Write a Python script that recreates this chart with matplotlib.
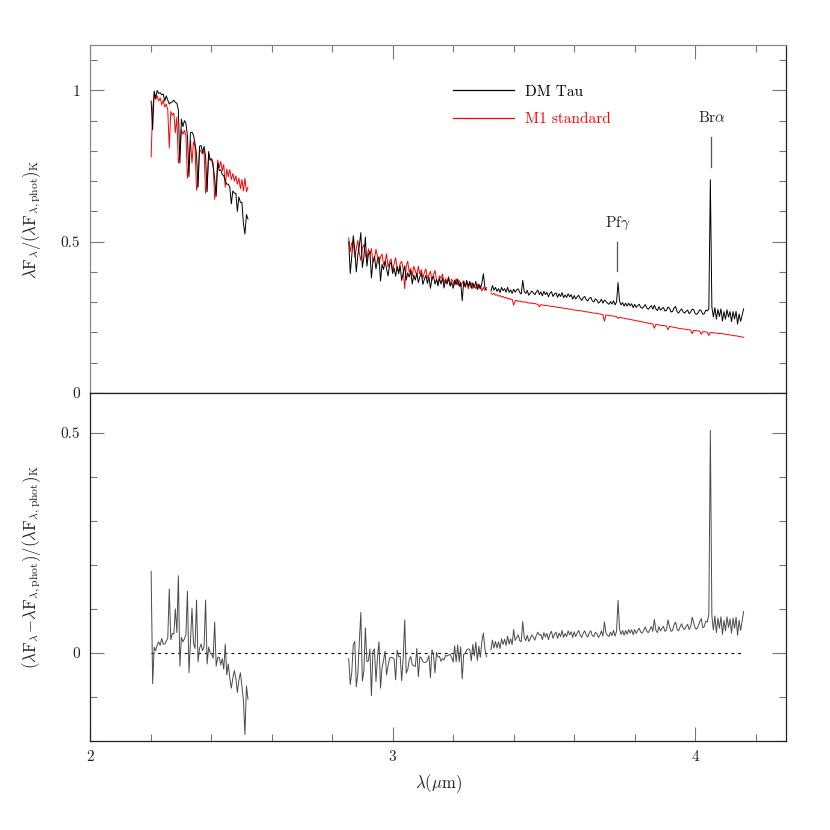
import numpy as np
import matplotlib
matplotlib.use('Agg')
import matplotlib.pyplot as plt
from matplotlib.lines import Line2D
from matplotlib.ticker import MultipleLocator, FuncFormatter

plt.rcParams['font.family'] = ['serif']
plt.rcParams['font.serif'] = ['cmr10', 'DejaVu Serif']
plt.rcParams['mathtext.fontset'] = 'cm'
plt.rcParams['axes.formatter.use_mathtext'] = True

# ---- wavelength grids of the three observed segments: (start um, step um, n points)
seg_a = (2.202, 0.005, 65)
seg_b = (2.855, 0.005, 92)
seg_c = (3.325, 0.005, 168)

# ---- normalised flux  lambda F_lambda / (lambda F_lambda,phot)_K , in units of 1/1000
dm_tau_a = [965, 870, 998, 975, 1000, 990, 992, 985, 988, 965, 982, 968, 955, 960, 962, 968,
            960, 958, 935, 760, 905, 880, 900, 892, 850, 715, 860, 862, 852, 825, 790, 680,
            815, 818, 795, 815, 780, 665, 798, 770, 772, 748, 710, 650, 760, 735, 738, 722,
            718, 700, 690, 690, 680, 625, 668, 660, 660, 600, 648, 630, 630, 560, 525, 590, 575]
m1_std_a = [780, 940, 985, 970, 982, 965, 975, 952, 968, 945, 955, 935, 810, 930, 918, 925,
            860, 912, 760, 790, 870, 855, 868, 850, 710, 760, 835, 760, 830, 815, 670, 700,
            805, 798, 790, 800, 660, 690, 785, 770, 775, 760, 640, 680, 770, 745, 765, 735,
            755, 680, 740, 715, 738, 705, 725, 700, 718, 690, 710, 675, 705, 668, 710, 665, 680]

dm_tau_b = [500, 395, 452, 520, 474, 400, 456, 487, 530, 415, 449, 515, 419, 458, 467, 380,
            435, 451, 410, 441, 450, 370, 425, 408, 436, 410, 387, 423, 433, 395, 413, 386,
            418, 394, 420, 372, 398, 420, 373, 397, 383, 404, 360, 390, 373, 396, 365, 384,
            396, 359, 376, 389, 362, 383, 346, 379, 386, 360, 375, 354, 379, 360, 380, 347,
            372, 360, 380, 353, 366, 346, 373, 358, 376, 352, 365, 305, 368, 350, 372, 353,
            369, 346, 364, 349, 369, 342, 360, 345, 363, 394, 348, 341]
m1_std_b = [513, 467, 496, 502, 448, 477, 504, 462, 438, 479, 491, 458, 439, 476, 458, 477,
            432, 442, 475, 451, 425, 450, 459, 425, 432, 460, 416, 435, 443, 406, 427, 447,
            412, 402, 428, 435, 409, 345, 419, 435, 399, 412, 387, 419, 404, 386, 419, 393,
            407, 379, 398, 410, 379, 389, 402, 372, 391, 405, 374, 364, 387, 379, 393, 363,
            378, 367, 385, 356, 376, 367, 357, 378, 358, 372, 351, 364, 371, 351, 365, 344,
            361, 364, 345, 356, 345, 359, 345, 355, 337, 349, 339, 349]

dm_tau_c = [337, 355, 340, 349, 336, 345, 332, 349, 338, 345, 333, 349, 333, 341, 329, 343,
            333, 341, 344, 332, 327, 372, 335, 329, 339, 323, 330, 337, 331, 325, 334, 340,
            325, 334, 321, 336, 325, 333, 318, 330, 335, 319, 327, 331, 316, 328, 319, 332,
            315, 324, 316, 328, 318, 325, 310, 322, 311, 318, 323, 312, 306, 315, 319, 308,
            304, 313, 316, 304, 301, 311, 307, 297, 301, 310, 297, 307, 303, 297, 293, 302,
            294, 305, 291, 301, 365, 303, 291, 299, 287, 297, 287, 297, 288, 295, 282, 293,
            283, 289, 293, 283, 280, 286, 292, 281, 277, 283, 289, 277, 290, 278, 272, 285,
            274, 279, 283, 271, 273, 284, 280, 268, 269, 281, 286, 269, 264, 272, 278, 268,
            264, 270, 274, 262, 268, 277, 275, 262, 260, 266, 275, 272, 260, 262, 274, 271,
            278, 705, 285, 251, 282, 244, 276, 253, 278, 238, 269, 244, 275, 251, 269, 236,
            269, 245, 270, 228, 261, 237, 257, 278]
m1_std_c = [330, 326, 329, 323, 325, 320, 322, 317, 319, 314, 316, 311, 313, 309, 310, 290,
            305, 306, 303, 304, 302, 301, 300, 301, 299, 297, 298, 296, 295, 296, 294, 293,
            285, 292, 291, 290, 289, 289, 288, 287, 286, 286, 285, 284, 283, 283, 282, 281,
            280, 280, 279, 278, 277, 277, 275, 274, 274, 273, 272, 272, 271, 270, 269, 268,
            268, 267, 266, 265, 264, 264, 263, 262, 261, 260, 259, 237, 258, 257, 256, 255,
            255, 254, 253, 252, 246, 250, 249, 248, 247, 246, 245, 244, 243, 242, 241, 240,
            239, 238, 237, 236, 235, 234, 233, 232, 231, 230, 229, 228, 214, 227, 226, 225,
            224, 223, 223, 222, 221, 209, 220, 219, 218, 217, 216, 215, 214, 213, 212, 212,
            211, 210, 209, 209, 208, 196, 207, 206, 206, 205, 204, 194, 203, 202, 202, 201,
            190, 200, 200, 199, 198, 198, 197, 197, 196, 196, 195, 194, 193, 193, 192, 191,
            190, 189, 189, 188, 187, 186, 185, 184]

line_labels = ['DM Tau', 'M1 standard']
line_colors = ['black', '#ff0000']


def grid(seg):
    start, step, n = seg
    return start + step * np.arange(n)


segments = [
    (grid(seg_a), np.array(dm_tau_a) / 1000.0, np.array(m1_std_a) / 1000.0),
    (grid(seg_b), np.array(dm_tau_b) / 1000.0, np.array(m1_std_b) / 1000.0),
    (grid(seg_c), np.array(dm_tau_c) / 1000.0, np.array(m1_std_c) / 1000.0),
]

fig = plt.figure(figsize=(8.3, 8.3), dpi=100)
W = H = 830.0
left, right = 90 / W, 786 / W
ax1 = fig.add_axes([left, 1 - 393 / H, right - left, (393 - 45) / H])
ax2 = fig.add_axes([left, 1 - 741 / H, right - left, (741 - 393) / H])

lw = 0.7
for wl, dm, m1 in segments:
    ax1.plot(wl, m1, color=line_colors[1], lw=lw, zorder=2)
    ax1.plot(wl, dm, color=line_colors[0], lw=lw, zorder=3)
    ax2.plot(wl, dm - m1, color='#4a4a4a', lw=lw, zorder=3)

ax2.plot([segments[0][0][0], segments[-1][0][-1]], [0, 0], color='black', lw=0.8,
         dashes=(2.5, 3.5), zorder=2)

handles = [Line2D([], [], color=c, lw=0.9) for c in line_colors]
leg = ax1.legend(handles, line_labels, loc='upper left', bbox_to_anchor=(0.5216, 0.885),
                 frameon=False, handlelength=4.0, handletextpad=0.7, borderpad=0,
                 borderaxespad=0, labelspacing=0.9, fontsize=11)
for t, c in zip(leg.get_texts(), line_colors):
    t.set_color(c)

# line identifications
ann_col = '#555555'
ax1.text(4.056, 0.91, r'Br$\alpha$', ha='center', va='center', fontsize=11, color='#222222')
ax1.plot([4.053, 4.053], [0.748, 0.845], color=ann_col, lw=0.9)
ax1.text(3.745, 0.561, r'Pf$\gamma$', ha='center', va='center', fontsize=11, color='#222222')
ax1.plot([3.743, 3.743], [0.403, 0.50], color=ann_col, lw=0.9)

ax1.set_xlim(2, 4.3)
ax2.set_xlim(2, 4.3)
ax1.set_ylim(0, 1.15)
ax2.set_ylim(-0.2, 0.59)

fmt = FuncFormatter(lambda v, p: '%g' % v)
for ax in (ax1, ax2):
    ax.xaxis.set_major_locator(MultipleLocator(1))
    ax.xaxis.set_minor_locator(MultipleLocator(0.2))
    ax.yaxis.set_major_locator(MultipleLocator(0.5))
    ax.yaxis.set_minor_locator(MultipleLocator(0.1))
    ax.xaxis.set_major_formatter(fmt)
    ax.yaxis.set_major_formatter(fmt)
    ax.tick_params(which='both', direction='in', color='#777777', labelcolor='#222222',
                   labelsize=11, width=0.8)
    ax.tick_params(which='major', length=10)
    ax.tick_params(which='minor', length=5)
    for s in ax.spines.values():
        s.set_color('#222222')
        s.set_linewidth(0.9)

ax1.tick_params(axis='x', which='both', top=True, bottom=False, labelbottom=False)
ax1.tick_params(axis='y', which='both', left=True, right=True, pad=7)
ax2.tick_params(axis='x', which='both', top=False, bottom=True, pad=7)
ax2.tick_params(axis='y', which='both', left=True, right=True, pad=7)
ax1.spines['top'].set_color('#888888')
ax1.spines['left'].set_color('#888888')

ax1.set_ylabel(r'$\lambda\mathrm{F}_\lambda/(\lambda\mathrm{F}_{\lambda,\mathrm{phot}})_\mathrm{K}$',
               fontsize=12, color='#222222')
ax2.set_ylabel(r'$(\lambda\mathrm{F}_\lambda\!-\!\lambda\mathrm{F}_{\lambda,\mathrm{phot}})'
               r'/(\lambda\mathrm{F}_{\lambda,\mathrm{phot}})_\mathrm{K}$',
               fontsize=12, color='#222222')
ax1.yaxis.set_label_coords(-0.068, 0.5)
ax2.yaxis.set_label_coords(-0.068, 0.5)
ax2.set_xlabel(r'$\lambda(\mu\mathrm{m})$', fontsize=12, color='#222222', labelpad=6)

fig.savefig('out.png', dpi=100)
